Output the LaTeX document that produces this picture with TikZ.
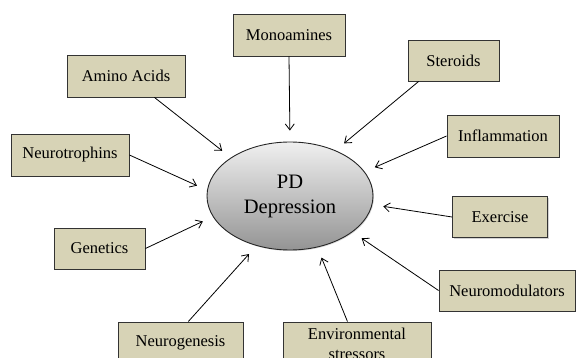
\documentclass[tikz,border=0pt]{standalone}
\usepackage{fontspec}
\setmainfont{Liberation Serif}
\usepackage{tikz}
\usetikzlibrary{shapes.geometric, arrows.meta, shadows}
\definecolor{boxtan}{RGB}{215,211,182}
\tikzstyle{factor} = [draw=black!80, line width=0.9pt, fill=boxtan, minimum height=42pt, inner sep=2pt,
  font=\fontsize{16.5}{20}\selectfont,
  drop shadow={shadow xshift=1.2pt, shadow yshift=-1.2pt, opacity=0.35}]
\tikzstyle{arrow} = [draw, -{Straight Barb[length=6pt, width=9pt]}, line width=0.8pt, shorten >=11pt]

\begin{document}
\begin{tikzpicture}[x=1pt, y=-1pt]
		\useasboundingbox (0,0) rectangle (576,358);
		\clip (0,0) rectangle (576,358);
		
		% Elipse central
		\node[ellipse, draw=black!85, line width=0.9pt, top color=black!6, bottom color=black!42,
		  minimum width=166pt, minimum height=108pt, inner sep=0pt, align=center,
		  font=\fontsize{20.5}{25}\selectfont,
		  drop shadow={shadow xshift=1pt, shadow yshift=-1pt, opacity=0.3}] (pd) at (290,196) {PD\\Depression};
		
		% Factores de arriba
		\node[factor, minimum width=112pt] (mono) at (289,35) {Monoamines};
		\node[factor, minimum width=118pt] (amino) at (126,76) {Amino Acids};
		\node[factor, minimum width=91pt, minimum height=41pt] (steroids) at (453.5,60.5) {Steroids};
		
		% Factores de los lados
		\node[factor, minimum width=112pt] (inflam) at (503,136) {Inflammation};
		\node[factor, minimum width=118pt] (neurotroph) at (70,155) {Neurotrophins};
		\node[factor, minimum width=95pt, minimum height=41pt] (exercise) at (500,217) {Exercise};
		\node[factor, minimum width=91pt, minimum height=41pt] (genetics) at (99.5,248.5) {Genetics};
		\node[factor, minimum width=136pt, minimum height=41pt] (neuromod) at (507,290.5) {Neuromodulators};
		
		% Factores de abajo
		\node[factor, minimum width=125pt] (neurogen) at (180.5,343) {Neurogenesis};
		\node[factor, minimum width=148pt, minimum height=44pt, align=center] (env) at (357,344) {Environmental\\stressors};
		
		% Flechas hacia la elipse
		\draw[arrow] (mono.south) -- (pd.90);
		\draw[arrow] (amino.-37) -- (pd.147);
		\draw[arrow] (steroids.-149) -- (pd.45);
		\draw[arrow] (inflam.west) -- (pd.18);
		\draw[arrow] (neurotroph.east) -- (pd.176);
		\draw[arrow] (exercise.west) -- (pd.-6);
		\draw[arrow] (genetics.east) -- (pd.195);
		\draw[arrow] (neuromod.west) -- (pd.-30);
		\draw[arrow] (neurogen.70) -- (pd.-124);
		\draw[arrow] (env.113) -- (pd.-62);
	\end{tikzpicture}
\end{document}
